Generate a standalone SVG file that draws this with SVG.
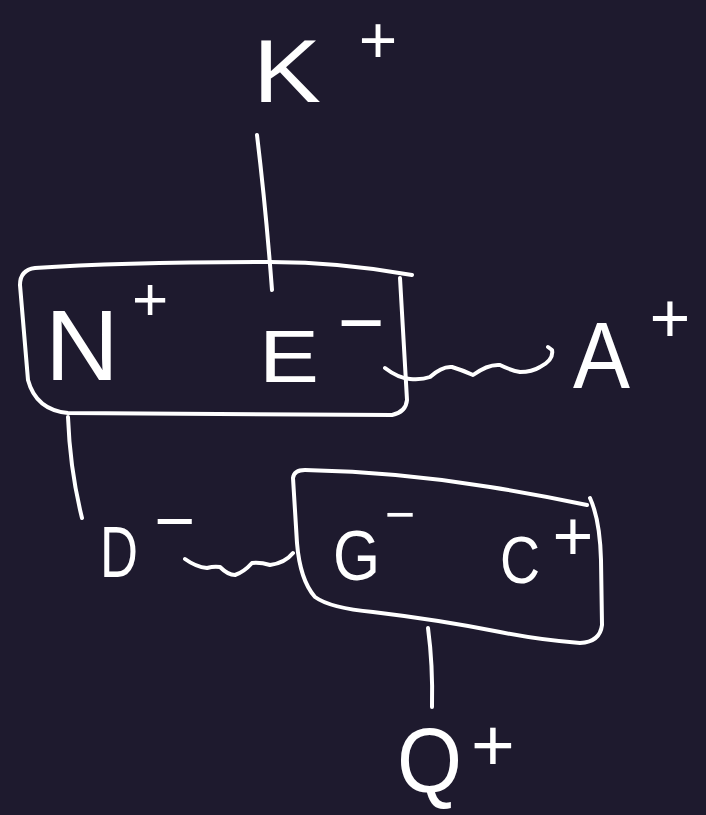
<svg xmlns="http://www.w3.org/2000/svg" width="706" height="815" viewBox="0 0 706 815">
<style>
.ink{fill:none;stroke:#ffffff;stroke-width:4;stroke-linecap:round;stroke-linejoin:round}
.lt{fill:#ffffff;font-family:"Liberation Sans","DejaVu Sans",sans-serif}
.sg{fill:#ffffff;font-family:"Liberation Sans","DejaVu Sans",sans-serif;text-anchor:middle}
</style>
<rect x="0" y="0" width="706" height="815" fill="#1e1a2e"/>
<g id="connectors">
<path class="ink" d="M257,135 Q266,210 272,290"/>
<path class="ink" d="M68,417 Q70,470 82,518"/>
<path class="ink" d="M428,628 Q433,665 432,707"/>
<path class="ink" d="M385,368 Q398,378 410,379 Q422,380 430,377 Q442,366 452,367 Q462,370 473,375 Q488,364 500,365 Q510,370 520,372 Q532,372 540,367 Q554,360 552,350 L548,347"/>
<path class="ink" d="M185,559 Q196,567 207,568 Q214,566 220,567 Q228,575 235,575 Q244,572 252,563 Q260,562 270,565 Q285,563 293,553"/>
</g>
<g id="node-K">
<text class="lt" x="253" y="102" font-size="89" textLength="68" lengthAdjust="spacingAndGlyphs">K</text>
<text class="sg" x="378" y="63" font-size="66">+</text>
</g>
<g id="node-NE">
<path class="ink" d="M412,275 Q340,262 270,262 Q120,262 35,268 Q20,270 20,285 L28,380 Q36,410 68,413 L392,415 Q406,412 407,400 L400,278"/>
<text class="lt" x="45" y="380" font-size="100" textLength="74" lengthAdjust="spacingAndGlyphs">N</text>
<text class="sg" x="150" y="320" font-size="62">+</text>
<text class="lt" x="259" y="382" font-size="75" textLength="60" lengthAdjust="spacingAndGlyphs">E</text>
<text class="sg" x="361" y="350" font-size="80">−</text>
</g>
<g id="node-A">
<text class="lt" x="573" y="388" font-size="95" textLength="57" lengthAdjust="spacingAndGlyphs">A</text>
<text class="sg" x="670" y="342" font-size="70">+</text>
</g>
<g id="node-D">
<text class="lt" x="100" y="577" font-size="73" textLength="38" lengthAdjust="spacingAndGlyphs">D</text>
<text class="sg" x="175" y="545" font-size="70">−</text>
</g>
<g id="node-GC">
<path class="ink" d="M590,498 Q600,520 601,560 L602,625 Q600,642 580,643 Q540,640 500,632 Q440,620 373,612 Q330,608 315,597 Q300,580 297,543 L293,478 Q294,470 305,470 Q400,472 490,487 Q540,495 587,505"/>
<text class="lt" x="333" y="580" font-size="70" textLength="47" lengthAdjust="spacingAndGlyphs">G</text>
<text class="sg" x="400" y="532" font-size="52">−</text>
<text class="lt" x="500" y="583" font-size="66" textLength="40" lengthAdjust="spacingAndGlyphs">C</text>
<text class="sg" x="573" y="560" font-size="70">+</text>
</g>
<g id="node-Q">
<text class="lt" x="397" y="792" font-size="90" textLength="65" lengthAdjust="spacingAndGlyphs">Q</text>
<text class="sg" x="493" y="771" font-size="75">+</text>
</g>
</svg>
